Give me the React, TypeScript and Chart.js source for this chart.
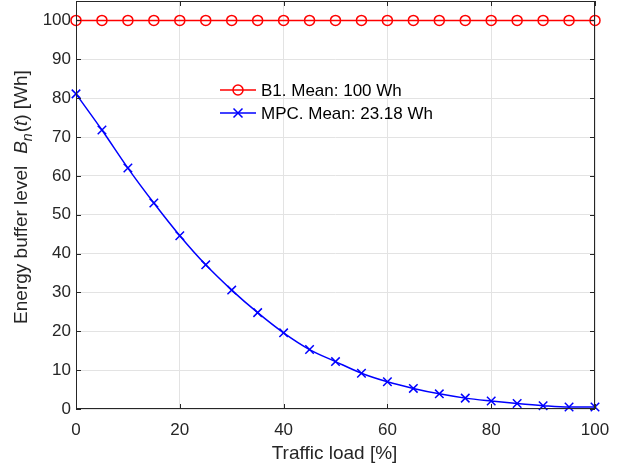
import React, { useEffect, useRef } from "react";
import { Chart, registerables } from "chart.js";
Chart.register(...registerables);

const loads = [0, 5, 10, 15, 20, 25, 30, 35, 40, 45, 50, 55, 60, 65, 70, 75, 80, 85, 90, 95, 100];
const b1Values = [100, 100, 100, 100, 100, 100, 100, 100, 100, 100, 100, 100, 100, 100, 100, 100, 100, 100, 100, 100, 100];
const mpcValues = [81.1, 71.8, 62.0, 53.0, 44.6, 37.1, 30.6, 24.8, 19.6, 15.3, 12.2, 9.2, 7.0, 5.3, 3.9, 2.8, 2.05, 1.4, 0.85, 0.5, 0.5];
const seriesLabels = ["B1. Mean: 100 Wh", "MPC. Mean: 23.18 Wh"];
const xTicks = [0, 20, 40, 60, 80, 100];
const yTicks = [0, 10, 20, 30, 40, 50, 60, 70, 80, 90, 100];
const xTitle = "Traffic load [%]";

const FONT = "'Liberation Sans', Arial, Helvetica, sans-serif";
const AX = "#262626";

const framePlugin = {
  id: "frame",
  afterDraw(chart: any) {
    const { ctx, chartArea: a, scales } = chart;
    ctx.save();
    ctx.strokeStyle = AX;
    ctx.lineWidth = 1;
    ctx.strokeRect(a.left + 0.5, a.top + 0.5, a.right - a.left - 1, a.bottom - a.top - 1);
    const tl = 5;
    ctx.beginPath();
    for (const v of xTicks) {
      const x = Math.round(scales.x.getPixelForValue(v)) + 0.5;
      ctx.moveTo(x, a.bottom); ctx.lineTo(x, a.bottom - tl);
      ctx.moveTo(x, a.top); ctx.lineTo(x, a.top + tl);
    }
    for (const v of yTicks) {
      const y = Math.round(scales.y.getPixelForValue(v)) + 0.5;
      ctx.moveTo(a.left, y); ctx.lineTo(a.left + tl, y);
      ctx.moveTo(a.right, y); ctx.lineTo(a.right - tl, y);
    }
    ctx.stroke();

    // x title
    ctx.fillStyle = AX;
    ctx.font = `19px ${FONT}`;
    ctx.textAlign = "center";
    ctx.textBaseline = "alphabetic";
    ctx.fillText(xTitle, (a.left + a.right) / 2 - 1, 459);

    // y title with rich text
    const parts: [string, string, number, number][] = [
      ["Energy buffer level", `19px ${FONT}`, 0, 12],
      ["B", `italic 19px ${FONT}`, 0, 0],
      ["n", `italic 14px ${FONT}`, 5, 1],
      ["(", `19px ${FONT}`, 0, 0],
      ["t", `italic 19px ${FONT}`, 0, 0],
      [") [Wh]", `19px ${FONT}`, 0, 0],
    ];
    let total = 0;
    for (const p of parts) { ctx.font = p[1]; total += ctx.measureText(p[0]).width + p[3]; }
    ctx.translate(27, 197);
    ctx.rotate(-Math.PI / 2);
    ctx.textAlign = "left";
    let xx = -total / 2;
    for (const p of parts) {
      ctx.font = p[1];
      ctx.fillText(p[0], xx, p[2]);
      xx += ctx.measureText(p[0]).width + p[3];
    }
    ctx.restore();

    // legend
    ctx.save();
    const ds = chart.data.datasets;
    const lx = 220, ly0 = 90, dy = 23;
    ds.forEach((d: any, i: number) => {
      const y = ly0 + i * dy;
      ctx.strokeStyle = d.borderColor;
      ctx.lineWidth = 1.5;
      ctx.beginPath();
      ctx.moveTo(lx, y); ctx.lineTo(lx + 36, y);
      ctx.stroke();
      const mx = lx + 18;
      ctx.beginPath();
      if (d.pointStyle === "circle") {
        ctx.arc(mx, y, 5, 0, Math.PI * 2);
      } else {
        ctx.moveTo(mx - 4.5, y - 4.5); ctx.lineTo(mx + 4.5, y + 4.5);
        ctx.moveTo(mx + 4.5, y - 4.5); ctx.lineTo(mx - 4.5, y + 4.5);
      }
      ctx.stroke();
      ctx.fillStyle = "#000";
      ctx.font = `17px ${FONT}`;
      ctx.textBaseline = "middle";
      ctx.textAlign = "left";
      ctx.fillText(d.label, lx + 41, y + 1);
    });
    ctx.restore();
  },
};

export default function App() {
  const ref = useRef<HTMLCanvasElement | null>(null);
  useEffect(() => {
    document.body.style.margin = "0";
    const chart = new Chart(ref.current!, {
      type: "line",
      data: {
        datasets: [
          {
            label: seriesLabels[0],
            data: loads.map((x, i) => ({ x, y: b1Values[i] })),
            borderColor: "#ff0000",
            backgroundColor: "rgba(0,0,0,0)",
            borderWidth: 1.5,
            pointStyle: "circle",
            pointRadius: 5,
            pointBorderWidth: 1.5,
            pointBackgroundColor: "rgba(0,0,0,0)",
            clip: false as any,
          },
          {
            label: seriesLabels[1],
            data: loads.map((x, i) => ({ x, y: mpcValues[i] })),
            borderColor: "#0000ff",
            backgroundColor: "rgba(0,0,0,0)",
            borderWidth: 1.5,
            pointStyle: "crossRot",
            pointRadius: 6,
            pointBorderWidth: 1.5,
            clip: false as any,
            cubicInterpolationMode: "monotone",
          },
        ],
      },
      options: {
        animation: false,
        responsive: false,
        maintainAspectRatio: false,
        layout: { autoPadding: false, padding: { left: 0, right: 23, top: 1, bottom: 0 } },
        plugins: { legend: { display: false }, tooltip: { enabled: false } },
        scales: {
          x: {
            type: "linear",
            min: 0,
            max: 100,
            afterBuildTicks: (s: any) => { s.ticks = xTicks.map((v) => ({ value: v })); },
            afterFit: (s: any) => { s.height = 57; s.paddingLeft = 0; s.paddingRight = 0; },
            grid: { color: "#e3e3e3", drawTicks: false, lineWidth: 1 },
            border: { display: false },
            ticks: { color: AX, font: { family: FONT, size: 17 }, padding: 11, maxRotation: 0 },
          },
          y: {
            type: "linear",
            min: 0,
            max: 105,
            afterBuildTicks: (s: any) => { s.ticks = yTicks.map((v) => ({ value: v })); },
            afterFit: (s: any) => { s.width = 76; s.paddingTop = 0; s.paddingBottom = 0; },
            grid: { color: "#e3e3e3", drawTicks: false, lineWidth: 1 },
            border: { display: false },
            ticks: { color: AX, font: { family: FONT, size: 17 }, padding: 5 },
          },
        },
      },
      plugins: [framePlugin],
    } as any);
    return () => chart.destroy();
  }, []);
  return (
    <div style={{ position: "absolute", left: 0, top: 0, width: 618, height: 466, background: "#fff" }}>
      <canvas ref={ref} width={618} height={466} />
    </div>
  );
}
